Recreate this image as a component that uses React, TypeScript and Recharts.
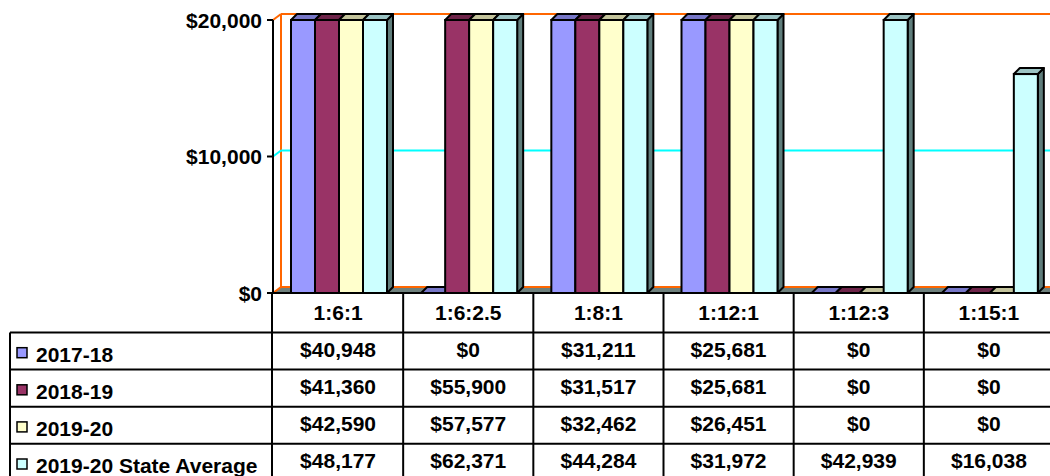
import React from 'react';
import { BarChart, Bar, XAxis, YAxis, CartesianGrid } from 'recharts';

const categories = ['1:6:1', '1:6:2.5', '1:8:1', '1:12:1', '1:12:3', '1:15:1'];
const s2017_18 = [40948, 0, 31211, 25681, 0, 0];
const s2018_19 = [41360, 55900, 31517, 25681, 0, 0];
const s2019_20 = [42590, 57577, 32462, 26451, 0, 0];
const sStateAvg = [48177, 62371, 44284, 31972, 42939, 16038];
const seriesNames = ['2017-18', '2018-19', '2019-20', '2019-20 State Average'];
const yTicks = [0, 10000, 20000];
const Y_MAX = 20000;

const FONT = '"Liberation Sans", Arial, Helvetica, sans-serif';
const FS = 21;
const ORANGE = '#FF6600';
const CYAN = '#00FFFF';
const FLOOR = '#6E807C';

const CHART_W = 1060;
const CHART_H = 476;
const PLOT_LEFT = 273;
const PLOT_RIGHT = 1054;
const PLOT_TOP = 20;
const PLOT_BOTTOM = 293;
const YAXIS_W = 90;
const XAXIS_H = 40;
const WX = 8;
const WY = 6;
const BD = 6;

const series = [
  { key: 's0', name: seriesNames[0], values: s2017_18, color: '#9999FF', top: '#7777C8', side: '#4C4C80' },
  { key: 's1', name: seriesNames[1], values: s2018_19, color: '#993366', top: '#6E2449', side: '#4C1933' },
  { key: 's2', name: seriesNames[2], values: s2019_20, color: '#FFFFCC', top: '#C4C49C', side: '#80806A' },
  { key: 's3', name: seriesNames[3], values: sStateAvg, color: '#CCFFFF', top: '#9CC4C4', side: '#5F7D7B' },
];

const chartData = categories.map((c, i) => {
  const row: any = { cat: c };
  series.forEach((s) => {
    row[s.key] = Math.min(s.values[i], Y_MAX);
  });
  return row;
});

const fmt = (v: number) => '$' + v.toLocaleString('en-US');

const make3D = (s: any) => (props: any) => {
  const { x, y, width: w, height: h } = props;
  if (x == null || y == null) return null;
  const hh = Math.max(0, h || 0);
  const sw = 2;
  return (
    <g>
      <path
        d={`M${x + w},${y + hh} L${x + w + BD},${y + hh - BD} L${x + w + BD},${y - BD} L${x + w},${y} Z`}
        fill={s.side}
        stroke="#000"
        strokeWidth={sw}
        strokeLinejoin="round"
      />
      <path
        d={`M${x},${y} L${x + BD},${y - BD} L${x + w + BD},${y - BD} L${x + w},${y} Z`}
        fill={s.top}
        stroke="#000"
        strokeWidth={sw}
        strokeLinejoin="round"
      />
      {hh > 0 && (
        <rect x={x} y={y} width={w} height={hh} fill={s.color} stroke="#000" strokeWidth={sw} />
      )}
    </g>
  );
};

const gridLine = (p: any) => {
  const y = p.y1;
  const x1 = p.x1;
  const x2 = p.x2;
  const isFloor = Math.abs(y - PLOT_BOTTOM) < 1;
  const isTop = Math.abs(y - PLOT_TOP) < 1;
  const col = isFloor || isTop ? ORANGE : CYAN;
  return (
    <g key={p.key ?? `g${p.index}`}>
      {isFloor && (
        <polygon
          points={`${x1},${y} ${x2 + 20},${y} ${x2 + 20 + WX},${y - WY} ${x1 + WX},${y - WY}`}
          fill={FLOOR}
        />
      )}
      {isFloor && (
        <line
          x1={x1 + WX}
          y1={PLOT_TOP - WY}
          x2={x1 + WX}
          y2={PLOT_BOTTOM - WY}
          stroke={ORANGE}
          strokeWidth={2}
        />
      )}
      <line x1={x1 + WX} y1={y - WY} x2={x2 + 40} y2={y - WY} stroke={col} strokeWidth={2} />
      <line x1={x1} y1={y} x2={x1 + WX} y2={y - WY} stroke={col} strokeWidth={2} />
    </g>
  );
};

const YTick = (p: any) => (
  <text
    x={p.x}
    y={p.y}
    dy={7.5}
    textAnchor="end"
    fontFamily={FONT}
    fontWeight={700}
    fontSize={FS}
    fill="#000"
  >
    {fmt(p.payload.value)}
  </text>
);

const XTick = (p: any) => (
  <text
    x={p.x}
    y={PLOT_BOTTOM + 27}
    textAnchor="middle"
    fontFamily={FONT}
    fontWeight={700}
    fontSize={FS}
    fill="#000"
  >
    {p.payload.value}
  </text>
);

const TableLayer = () => {
  const colW = (PLOT_RIGHT - PLOT_LEFT) / categories.length;
  const rowTops = [332.5, 369.6, 406.7, 443.8];
  const tableLeft = 10;
  const lines: any[] = [];
  rowTops.forEach((t, i) => {
    lines.push(<line key={`h${i}`} x1={tableLeft} y1={t} x2={PLOT_RIGHT + 10} y2={t} stroke="#000" strokeWidth={2} />);
  });
  lines.push(<line key="vl" x1={tableLeft} y1={rowTops[0]} x2={tableLeft} y2={CHART_H + 10} stroke="#000" strokeWidth={2} />);
  lines.push(<line key="vax" x1={PLOT_LEFT - 1} y1={PLOT_BOTTOM} x2={PLOT_LEFT - 1} y2={CHART_H + 10} stroke="#000" strokeWidth={2} />);
  for (let i = 1; i <= categories.length; i++) {
    const x = PLOT_LEFT + i * colW;
    lines.push(<line key={`v${i}`} x1={x} y1={PLOT_BOTTOM} x2={x} y2={CHART_H + 10} stroke="#000" strokeWidth={2} />);
  }
  return (
    <svg width={CHART_W} height={CHART_H} style={{ position: 'absolute', left: 0, top: 0, pointerEvents: 'none' }}>
      {lines}
      {series.map((s, r) => (
        <g key={s.key}>
          <rect x={17} y={rowTops[r] + 15.2} width={10} height={10} fill={s.color} stroke="#000" strokeWidth={1.5} />
          <text
            x={36}
            y={rowTops[r] + 29}
            fontFamily={FONT}
            fontWeight={700}
            fontSize={FS}
            fill="#000"
          >
            {s.name}
          </text>
          {s.values.map((v, c) => (
            <text
              key={c}
              x={PLOT_LEFT + (c + 0.5) * colW}
              y={rowTops[r] + 24.5}
              textAnchor="middle"
              fontFamily={FONT}
              fontWeight={700}
              fontSize={FS}
              fill="#000"
            >
              {fmt(v)}
            </text>
          ))}
        </g>
      ))}
    </svg>
  );
};

export default function App() {
  return (
    <div
      style={{
        position: 'absolute',
        left: 0,
        top: 0,
        width: 1050,
        height: 476,
        overflow: 'hidden',
        background: '#fff',
      }}
    >
      <BarChart
        width={CHART_W}
        height={CHART_H}
        data={chartData}
        margin={{
          top: PLOT_TOP,
          right: CHART_W - PLOT_RIGHT,
          left: PLOT_LEFT - YAXIS_W,
          bottom: CHART_H - PLOT_BOTTOM - XAXIS_H,
        }}
        barCategoryGap={18}
        barGap={0}
      >
        <CartesianGrid vertical={false} horizontal={gridLine as any} />
        <XAxis
          dataKey="cat"
          height={XAXIS_H}
          axisLine={{ stroke: '#000', strokeWidth: 2 }}
          tickLine={false}
          tick={XTick as any}
          interval={0}
        />
        <YAxis
          width={YAXIS_W}
          domain={[0, Y_MAX]}
          ticks={yTicks}
          axisLine={{ stroke: '#000', strokeWidth: 2 }}
          tickLine={{ stroke: '#000', strokeWidth: 2 }}
          tickSize={6}
          tickMargin={5}
          tick={YTick as any}
        />
        {series.map((s) => (
          <Bar key={s.key} dataKey={s.key} name={s.name} isAnimationActive={false} shape={make3D(s) as any} />
        ))}
      </BarChart>
      <TableLayer />
    </div>
  );
}
